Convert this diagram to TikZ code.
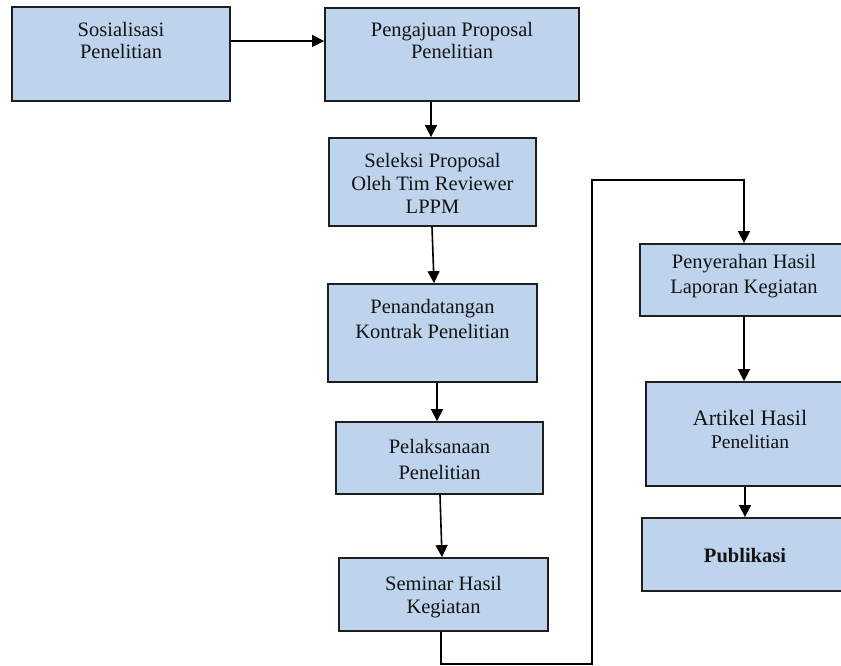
\documentclass[tikz,border=0pt]{standalone}
\usepackage{fontspec}
\setmainfont{Liberation Serif}
\usetikzlibrary{arrows.meta}
\definecolor{boxfill}{HTML}{BDD4EC}
\definecolor{boxline}{HTML}{1E1E1E}
\begin{document}
\begin{tikzpicture}[x=1pt,y=-1pt,
  box/.style={draw=boxline, line width=1.8pt, fill=boxfill, rectangle, inner sep=0pt},
  txt/.style={font=\fontsize{20.5}{24}\selectfont, align=center, inner sep=0pt, anchor=north, text=black!92},
  arr/.style={-{Triangle[length=12pt,width=12pt]}, line width=1.6pt, black}]
\useasboundingbox (0,0) rectangle (841,666);
\clip (0,0) rectangle (841,666);
% boxes
\node[box, minimum width=218pt, minimum height=94pt] (b1) at (121,54) {};
\node[box, minimum width=254pt, minimum height=93pt] (b2) at (452,54.5) {};
\node[box, minimum width=207pt, minimum height=88pt] (b3) at (432.5,182) {};
\node[box, minimum width=209pt, minimum height=98pt] (b4) at (432.5,333) {};
\node[box, minimum width=207pt, minimum height=72pt] (b5) at (439.5,458) {};
\node[box, minimum width=209pt, minimum height=73pt] (b6) at (443.5,594.5) {};
\node[box, minimum width=208pt, minimum height=72pt] (b7) at (744,280) {};
\node[box, minimum width=204pt, minimum height=104pt] (b8) at (748,434) {};
\node[box, minimum width=206pt, minimum height=73pt] (b9) at (745,554.5) {};
% texts
\node[txt, font=\fontsize{20.5}{22.5}\selectfont] (t1) at (121,22) {Sosialisasi\\Penelitian};
\node[txt, font=\fontsize{20.5}{22.5}\selectfont] (t2) at (452,22) {Pengajuan Proposal\\Penelitian};
\node[txt, font=\fontsize{20.5}{23}\selectfont] (t3) at (432.5,153) {Seleksi Proposal\\Oleh Tim Reviewer\\LPPM};
\node[txt, font=\fontsize{20.5}{25}\selectfont] (t4) at (432.5,299) {Penandatangan\\Kontrak Penelitian};
\node[txt, font=\fontsize{20.5}{26}\selectfont] (t5) at (439.5,439) {Pelaksanaan\\Penelitian};
\node[txt, font=\fontsize{20.5}{23}\selectfont] (t6) at (443.5,576) {Seminar Hasil\\Kegiatan};
\node[txt, font=\fontsize{20.5}{25}\selectfont] (t7) at (744,254) {Penyerahan Hasil\\Laporan Kegiatan};
\node[txt, font=\fontsize{22}{23}\selectfont] (t8) at (750,410) {\fontsize{22}{23}\selectfont Artikel Hasil\\\fontsize{19.5}{23}\selectfont Penelitian};
\node[txt, font=\fontsize{20.5}{24}\selectfont\bfseries] (t9) at (745,548) {Publikasi};
% helper coordinates for the loop
\coordinate (c1) at (592,664);
\coordinate (c2) at (592,180);
% connectors
\draw[arr] ([yshift=13pt]b1.east) -- ([yshift=13.5pt]b2.west);
\draw[arr] ([xshift=-21pt]b2.south) -- ([xshift=-1.5pt]b3.north);
\draw[arr] ([xshift=-0.5pt]b3.south) -- ([xshift=1.5pt]b4.north);
\draw[arr] ([xshift=4.5pt]b4.south) -- ([xshift=-2.5pt]b5.north);
\draw[arr] ([xshift=0.5pt]b5.south) -- ([xshift=-1.5pt]b6.north);
\draw[arr] ([xshift=-2.5pt]b6.south) |- (c1) -- (c2) -| (b7.north);
\draw[arr] (b7.south) -- ([xshift=-4pt]b8.north);
\draw[arr] ([xshift=-3pt]b8.south) -- (b9.north);
\end{tikzpicture}
\end{document}
